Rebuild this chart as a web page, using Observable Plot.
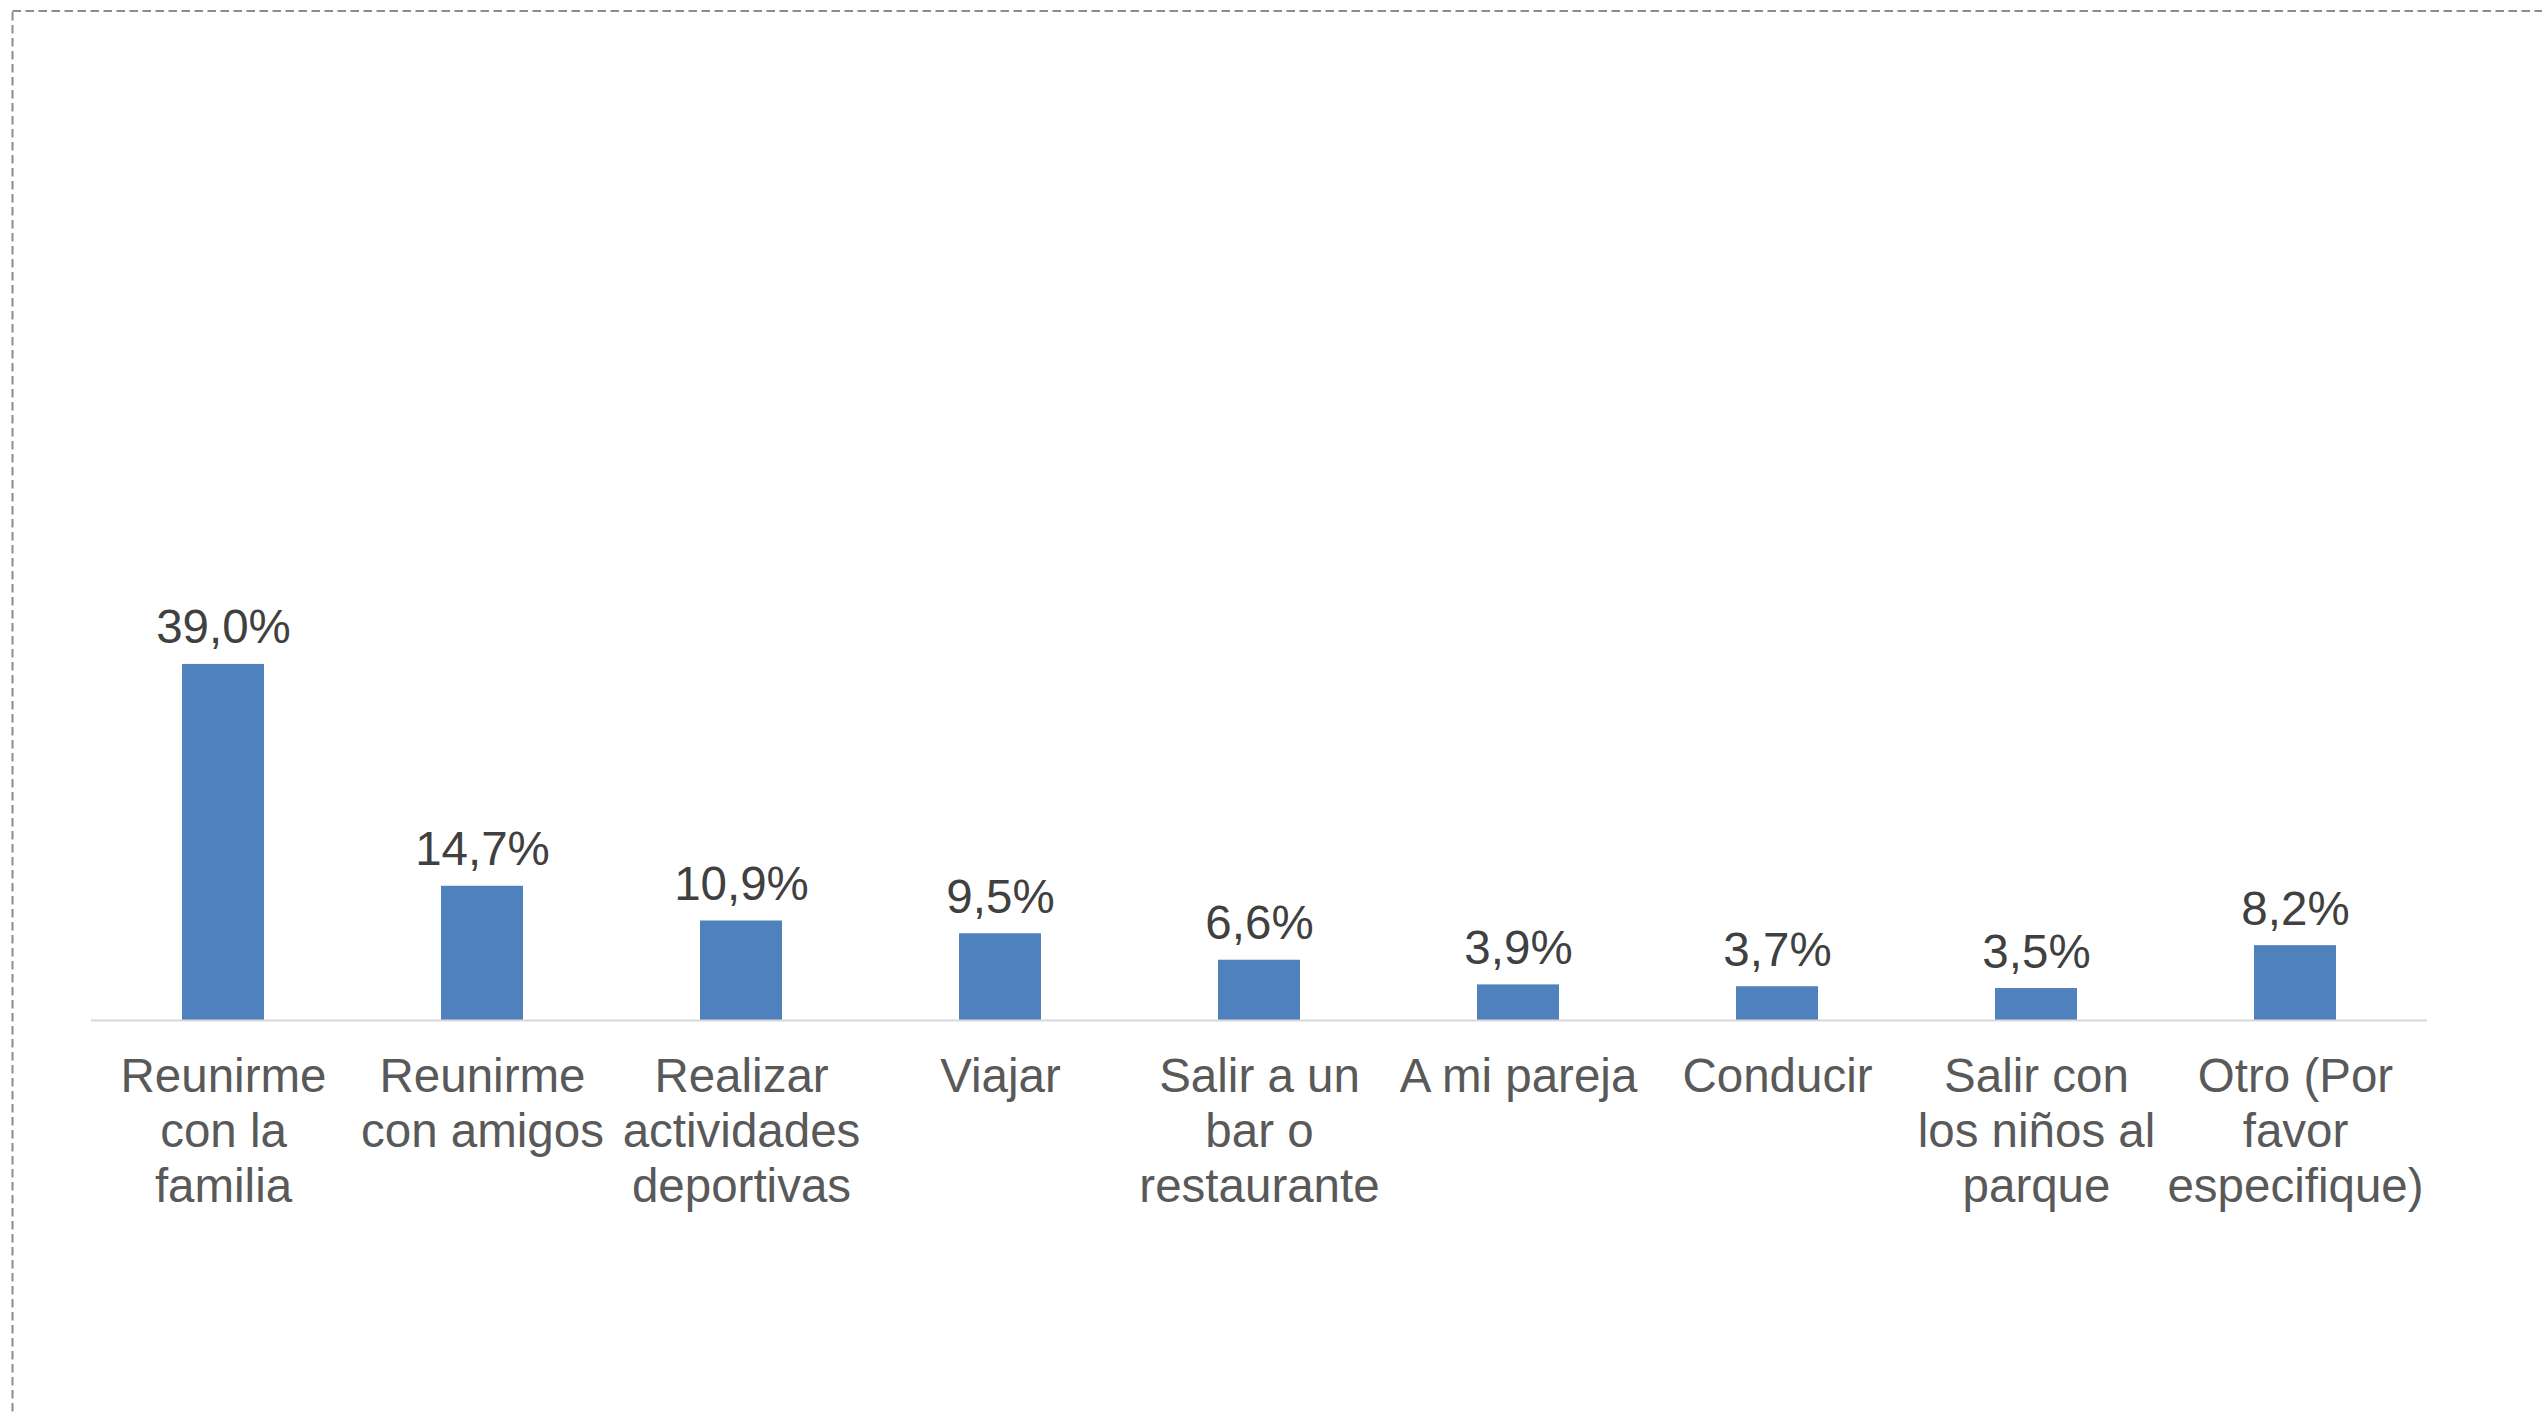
<!DOCTYPE html>
<html>
<head>
<meta charset="utf-8">
<script src="https://cdn.jsdelivr.net/npm/d3@7"></script>
<script src="https://cdn.jsdelivr.net/npm/@observablehq/plot@0.6"></script>
<style>
  html, body { margin: 0; padding: 0; background: #ffffff; overflow: hidden; }
  #wrap { position: relative; width: 2542px; height: 1414px; }
  #chart { position: absolute; left: 0; top: 0; }
  #border { position: absolute; left: 0; top: 0; pointer-events: none; }
</style>
</head>
<body>
<div id="wrap">
  <div id="chart"></div>
  <svg id="border" width="2542" height="1414">
    <line x1="12.5" y1="11" x2="2542" y2="11" stroke="#8c8c8c" stroke-width="2" stroke-dasharray="8.5,4.5"></line>
    <line x1="12.5" y1="12" x2="12.5" y2="1414" stroke="#8c8c8c" stroke-width="2" stroke-dasharray="8.5,4.5"></line>
  </svg>
</div>
<script>
const categories = [
  "Reunirme\ncon la\nfamilia",
  "Reunirme\ncon amigos",
  "Realizar\nactividades\ndeportivas",
  "Viajar",
  "Salir a un\nbar o\nrestaurante",
  "A mi pareja",
  "Conducir",
  "Salir con\nlos niños al\nparque",
  "Otro (Por\nfavor\nespecifique)"
];
const values = [39.0, 14.7, 10.9, 9.5, 6.6, 3.9, 3.7, 3.5, 8.2];

const data = categories.map((c, i) => ({ category: c, value: values[i] }));
const fmt = v => v.toFixed(1).replace(".", ",") + "%";

const W = 2542, H = 1414;
const baseY = 1020;
const pxPerUnit = 9.13;
const yMax = 40;

const chart = Plot.plot({
  width: W,
  height: H,
  marginLeft: 91,
  marginRight: W - 2427,
  marginTop: baseY - yMax * pxPerUnit,
  marginBottom: H - baseY,
  style: { fontFamily: "'Liberation Sans', Arial, sans-serif", background: "transparent" },
  x: { domain: categories, paddingInner: 0.685, paddingOuter: 0.3425, align: 0.5 },
  y: { domain: [0, yMax], axis: null },
  marks: [
    Plot.barY(data, { x: "category", y: "value", fill: "#4F81BD" }),
    Plot.ruleY([0], { stroke: "#d9d9d9", strokeWidth: 2 }),
    Plot.text(data, {
      x: "category", y: "value", text: d => fmt(d.value),
      lineAnchor: "bottom", dy: -21, fontSize: 47.5, fill: "#404040"
    }),
    Plot.axisX({
      tickSize: 0, tickPadding: 32, fontSize: 47.5, lineHeight: 1.158,
      fill: "#595959", label: null, textOverflow: null
    })
  ]
});
document.getElementById("chart").appendChild(chart);
</script>
</body>
</html>
